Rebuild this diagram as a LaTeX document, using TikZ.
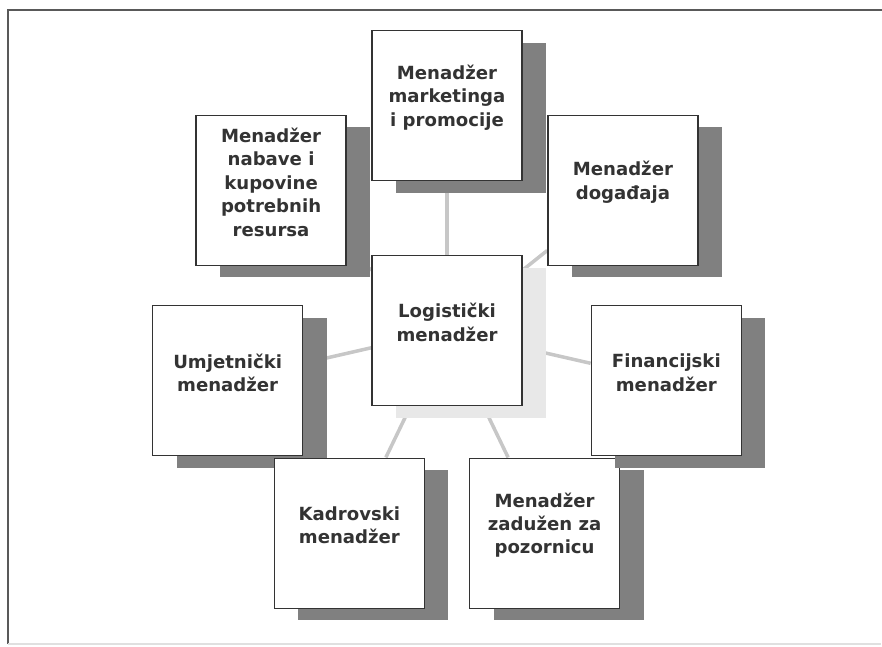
\documentclass[tikz,border=0pt]{standalone}
\usepackage{fontspec}
\setmainfont{DejaVu Sans}
\usetikzlibrary{shadows,backgrounds}

\tikzset{
  card/.style={draw=black!80, line width=0.8pt, fill=white, minimum size=3cm, inner sep=0pt},
  boxtext/.style={align=center, text=black!80, yshift=0.16cm,
    font=\bfseries\fontsize{10.3}{13.3}\selectfont},
  box/.style={card, label={[boxtext]center:#1},
    drop shadow={shadow xshift=0.48cm, shadow yshift=-0.24cm, fill=black!50, opacity=1}},
  hub/.style={card, label={[boxtext]center:#1},
    drop shadow={shadow xshift=0.48cm, shadow yshift=-0.24cm, fill=black!9, opacity=1}},
  link/.style={draw=black!22, line width=2pt}
}

\begin{document}
\begin{tikzpicture}
  \useasboundingbox (-8.94,-6.31) rectangle (8.70,6.61);
  % okvir
  \draw[black!65, line width=0.8pt] (-8.78,-6.27) -- (-8.78,6.41) -- (8.70,6.41);
  \draw[black!12, line width=0.6pt] (-8.78,-6.27) -- (8.68,-6.27);

  \node[hub={Logistički\\menadžer}] (log) at (0,0) {};
  \node[box={Menadžer\\marketinga\\i promocije}] (mkt) at (90:4.5) {};
  \node[box={Menadžer\\nabave i\\kupovine\\potrebnih\\resursa}] (nab) at (141.43:4.5) {};
  \node[box={Umjetnički\\menadžer}] (umj) at (192.86:4.5) {};
  \node[box={Kadrovski\\menadžer}] (kad) at (244.29:4.5) {};
  \node[box={Menadžer\\zadužen za\\pozornicu}] (poz) at (295.71:4.5) {};
  \node[box={Financijski\\menadžer}] (fin) at (347.14:4.5) {};
  \node[box={Menadžer\\događaja}] (dog) at (38.57:4.5) {};

  \begin{scope}[on background layer]
    \draw[link] (log) -- (mkt);
    \draw[link] (log) -- (nab);
    \draw[link] (log) -- (umj);
    \draw[link] (log) -- (kad);
    \draw[link] (log) -- (poz);
    \draw[link] (log) -- (fin);
    \draw[link] (log) -- (dog);
  \end{scope}
\end{tikzpicture}
\end{document}
